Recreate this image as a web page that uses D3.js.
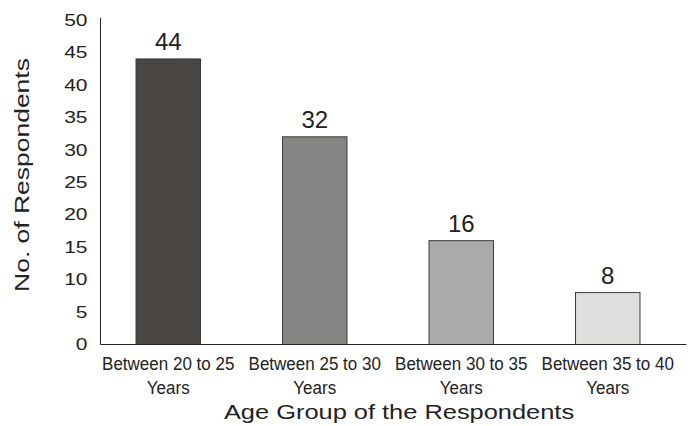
<!DOCTYPE html>
<html>
<head>
<meta charset="utf-8">
<script src="https://cdn.jsdelivr.net/npm/d3@7"></script>
<style>
  html, body { margin: 0; padding: 0; background: #fff; }
  svg { display: block; }
  text { font-family: "Liberation Sans", Arial, sans-serif; fill: #222; }
</style>
</head>
<body>
<svg id="chart" width="693" height="426"></svg>
<script>
// Age groups and respondent counts
const categories = [
  ["Between 20 to 25", "Years"],
  ["Between 25 to 30", "Years"],
  ["Between 30 to 35", "Years"],
  ["Between 35 to 40", "Years"]
];
const respondents = [44, 32, 16, 8];
const barColors = ["#4a4644", "#858583", "#aaaaaa", "#dededd"];
const yTicks = [0, 5, 10, 15, 20, 25, 30, 35, 40, 45, 50];

const svg = d3.select("#chart");

const x = d3.scaleBand()
  .domain(d3.range(categories.length))
  .range([95, 681])
  .paddingInner(0.56)
  .paddingOuter(0.28);

const y = d3.scaleLinear().domain([0, 50]).range([344.5, 20]);

// Bars
svg.append("g").selectAll("rect")
  .data(respondents)
  .join("rect")
  .attr("x", (d, i) => x(i))
  .attr("y", d => y(d))
  .attr("width", x.bandwidth())
  .attr("height", d => y(0) - y(d))
  .attr("fill", (d, i) => barColors[i])
  .attr("stroke", "#3a3a3a")
  .attr("stroke-width", 1);

// Value labels
svg.append("g").selectAll("text")
  .data(respondents)
  .join("text")
  .attr("x", (d, i) => x(i) + x.bandwidth() / 2)
  .attr("y", d => y(d) - 9)
  .attr("text-anchor", "middle")
  .style("font-size", "24px")
  .text(d => d);

// Y axis (line and labels, no tick marks); labels drawn slightly wide
const wide = 1.27;
const yAxis = svg.append("g")
  .attr("transform", "translate(100.5,0)")
  .call(d3.axisLeft(y).tickValues(yTicks).tickSize(0).tickPadding(13));
yAxis.select(".domain").attr("stroke", "#222").attr("d", `M0,${y(50) - 2}V${y(0)}`);
yAxis.selectAll("text")
  .style("font-family", "Liberation Sans, Arial, sans-serif")
  .style("font-size", "16.5px")
  .attr("fill", "#222")
  .attr("x", -13 / wide)
  .attr("transform", `scale(${wide},1)`);

// X axis baseline
svg.append("line")
  .attr("x1", 100.5).attr("x2", 686.5)
  .attr("y1", y(0)).attr("y2", y(0))
  .attr("stroke", "#222");

// Category labels (two lines each, slightly condensed)
const narrow = 0.92;
const xl = svg.append("g").selectAll("text")
  .data(categories)
  .join("text")
  .attr("text-anchor", "middle")
  .attr("transform", (d, i) => `translate(${x(i) + x.bandwidth() / 2},0) scale(${narrow},1)`)
  .style("font-size", "18.5px");
xl.each(function(lines) {
  const t = d3.select(this);
  lines.forEach((ln, k) => {
    t.append("tspan")
      .attr("x", 0)
      .attr("y", 370 + k * 24)
      .text(ln);
  });
});

// Axis titles
svg.append("text")
  .attr("transform", `translate(399,419) scale(${wide},1)`)
  .attr("text-anchor", "middle")
  .style("font-size", "20px")
  .text("Age Group of the Respondents");

svg.append("text")
  .attr("transform", `translate(28.5,175) rotate(-90) scale(1.26,1)`)
  .attr("text-anchor", "middle")
  .style("font-size", "21px")
  .text("No. of Respondents");
</script>
</body>
</html>
